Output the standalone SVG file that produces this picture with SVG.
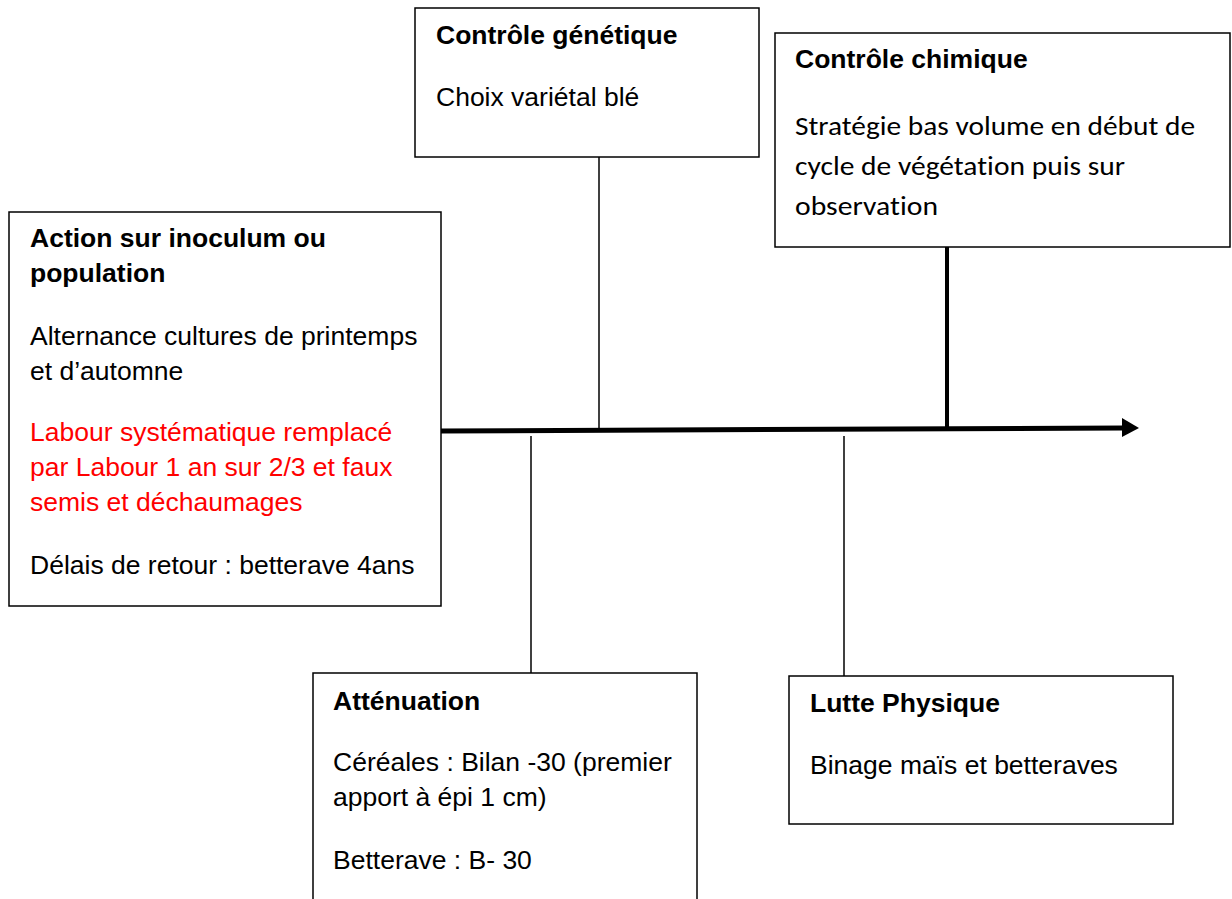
<svg xmlns="http://www.w3.org/2000/svg" width="1232" height="899" viewBox="0 0 1232 899">
<style>
.box{fill:#fff;stroke:#000;stroke-width:1.5}
.h{font-family:"Liberation Sans",Arial,sans-serif;font-weight:bold;font-size:26.5px;fill:#000}
.t{font-family:"Liberation Sans",Arial,sans-serif;font-size:26.5px;fill:#000}
.c{font-family:Carlito,Lato,"Open Sans",sans-serif;font-size:27px;fill:#000;font-variant-ligatures:none}
.red{fill:#ff0000}
.thin{stroke:#000;stroke-width:1.5;fill:none}
.thick{stroke:#000;stroke-width:4;fill:none}
</style>
<g id="connectors">
<line class="thin" x1="599" y1="157" x2="599" y2="430"/>
<line class="thick" x1="947" y1="247" x2="947" y2="427"/>
<line class="thin" x1="531" y1="436" x2="531" y2="673"/>
<line class="thin" x1="844" y1="436" x2="844" y2="676"/>
<line x1="441" y1="431" x2="1124" y2="428" stroke="#000" stroke-width="5"/>
<path d="M1122,418 L1139,428 L1122,437 Z" fill="#000"/>
</g>
<g id="node-genetique">
<rect class="box" x="415" y="8" width="344" height="149"/>
<text class="h" x="436" y="44">Contrôle génétique</text>
<text class="t" x="436" y="106">Choix variétal blé</text>
</g>
<g id="node-chimique">
<rect class="box" x="775" y="33" width="455" height="214"/>
<text class="h" x="795" y="68">Contrôle chimique</text>
<text class="c" x="795" y="135" textLength="400" lengthAdjust="spacingAndGlyphs">Stratégie bas volume en début de</text>
<text class="c" x="795" y="175" textLength="330" lengthAdjust="spacingAndGlyphs">cycle de végétation puis sur</text>
<text class="c" x="795" y="215" textLength="143" lengthAdjust="spacingAndGlyphs">observation</text>
</g>
<g id="node-action">
<rect class="box" x="9" y="212" width="432" height="394"/>
<text class="h" x="30" y="247">Action sur inoculum ou</text>
<text class="h" x="30" y="282">population</text>
<text class="t" x="30" y="345">Alternance cultures de printemps</text>
<text class="t" x="30" y="380">et d’automne</text>
<text class="t red" x="30" y="441">Labour systématique remplacé</text>
<text class="t red" x="30" y="476">par Labour 1 an sur 2/3 et faux</text>
<text class="t red" x="30" y="511">semis et déchaumages</text>
<text class="t" x="30" y="574">Délais de retour : betterave 4ans</text>
</g>
<g id="node-attenuation">
<rect class="box" x="313" y="673" width="384" height="240"/>
<text class="h" x="333" y="710">Atténuation</text>
<text class="t" x="333" y="771">Céréales : Bilan -30 (premier</text>
<text class="t" x="333" y="806">apport à épi 1 cm)</text>
<text class="t" x="333" y="869">Betterave : B- 30</text>
</g>
<g id="node-physique">
<rect class="box" x="789" y="676" width="384" height="148"/>
<text class="h" x="810" y="712">Lutte Physique</text>
<text class="t" x="810" y="774">Binage maïs et betteraves</text>
</g>
</svg>
